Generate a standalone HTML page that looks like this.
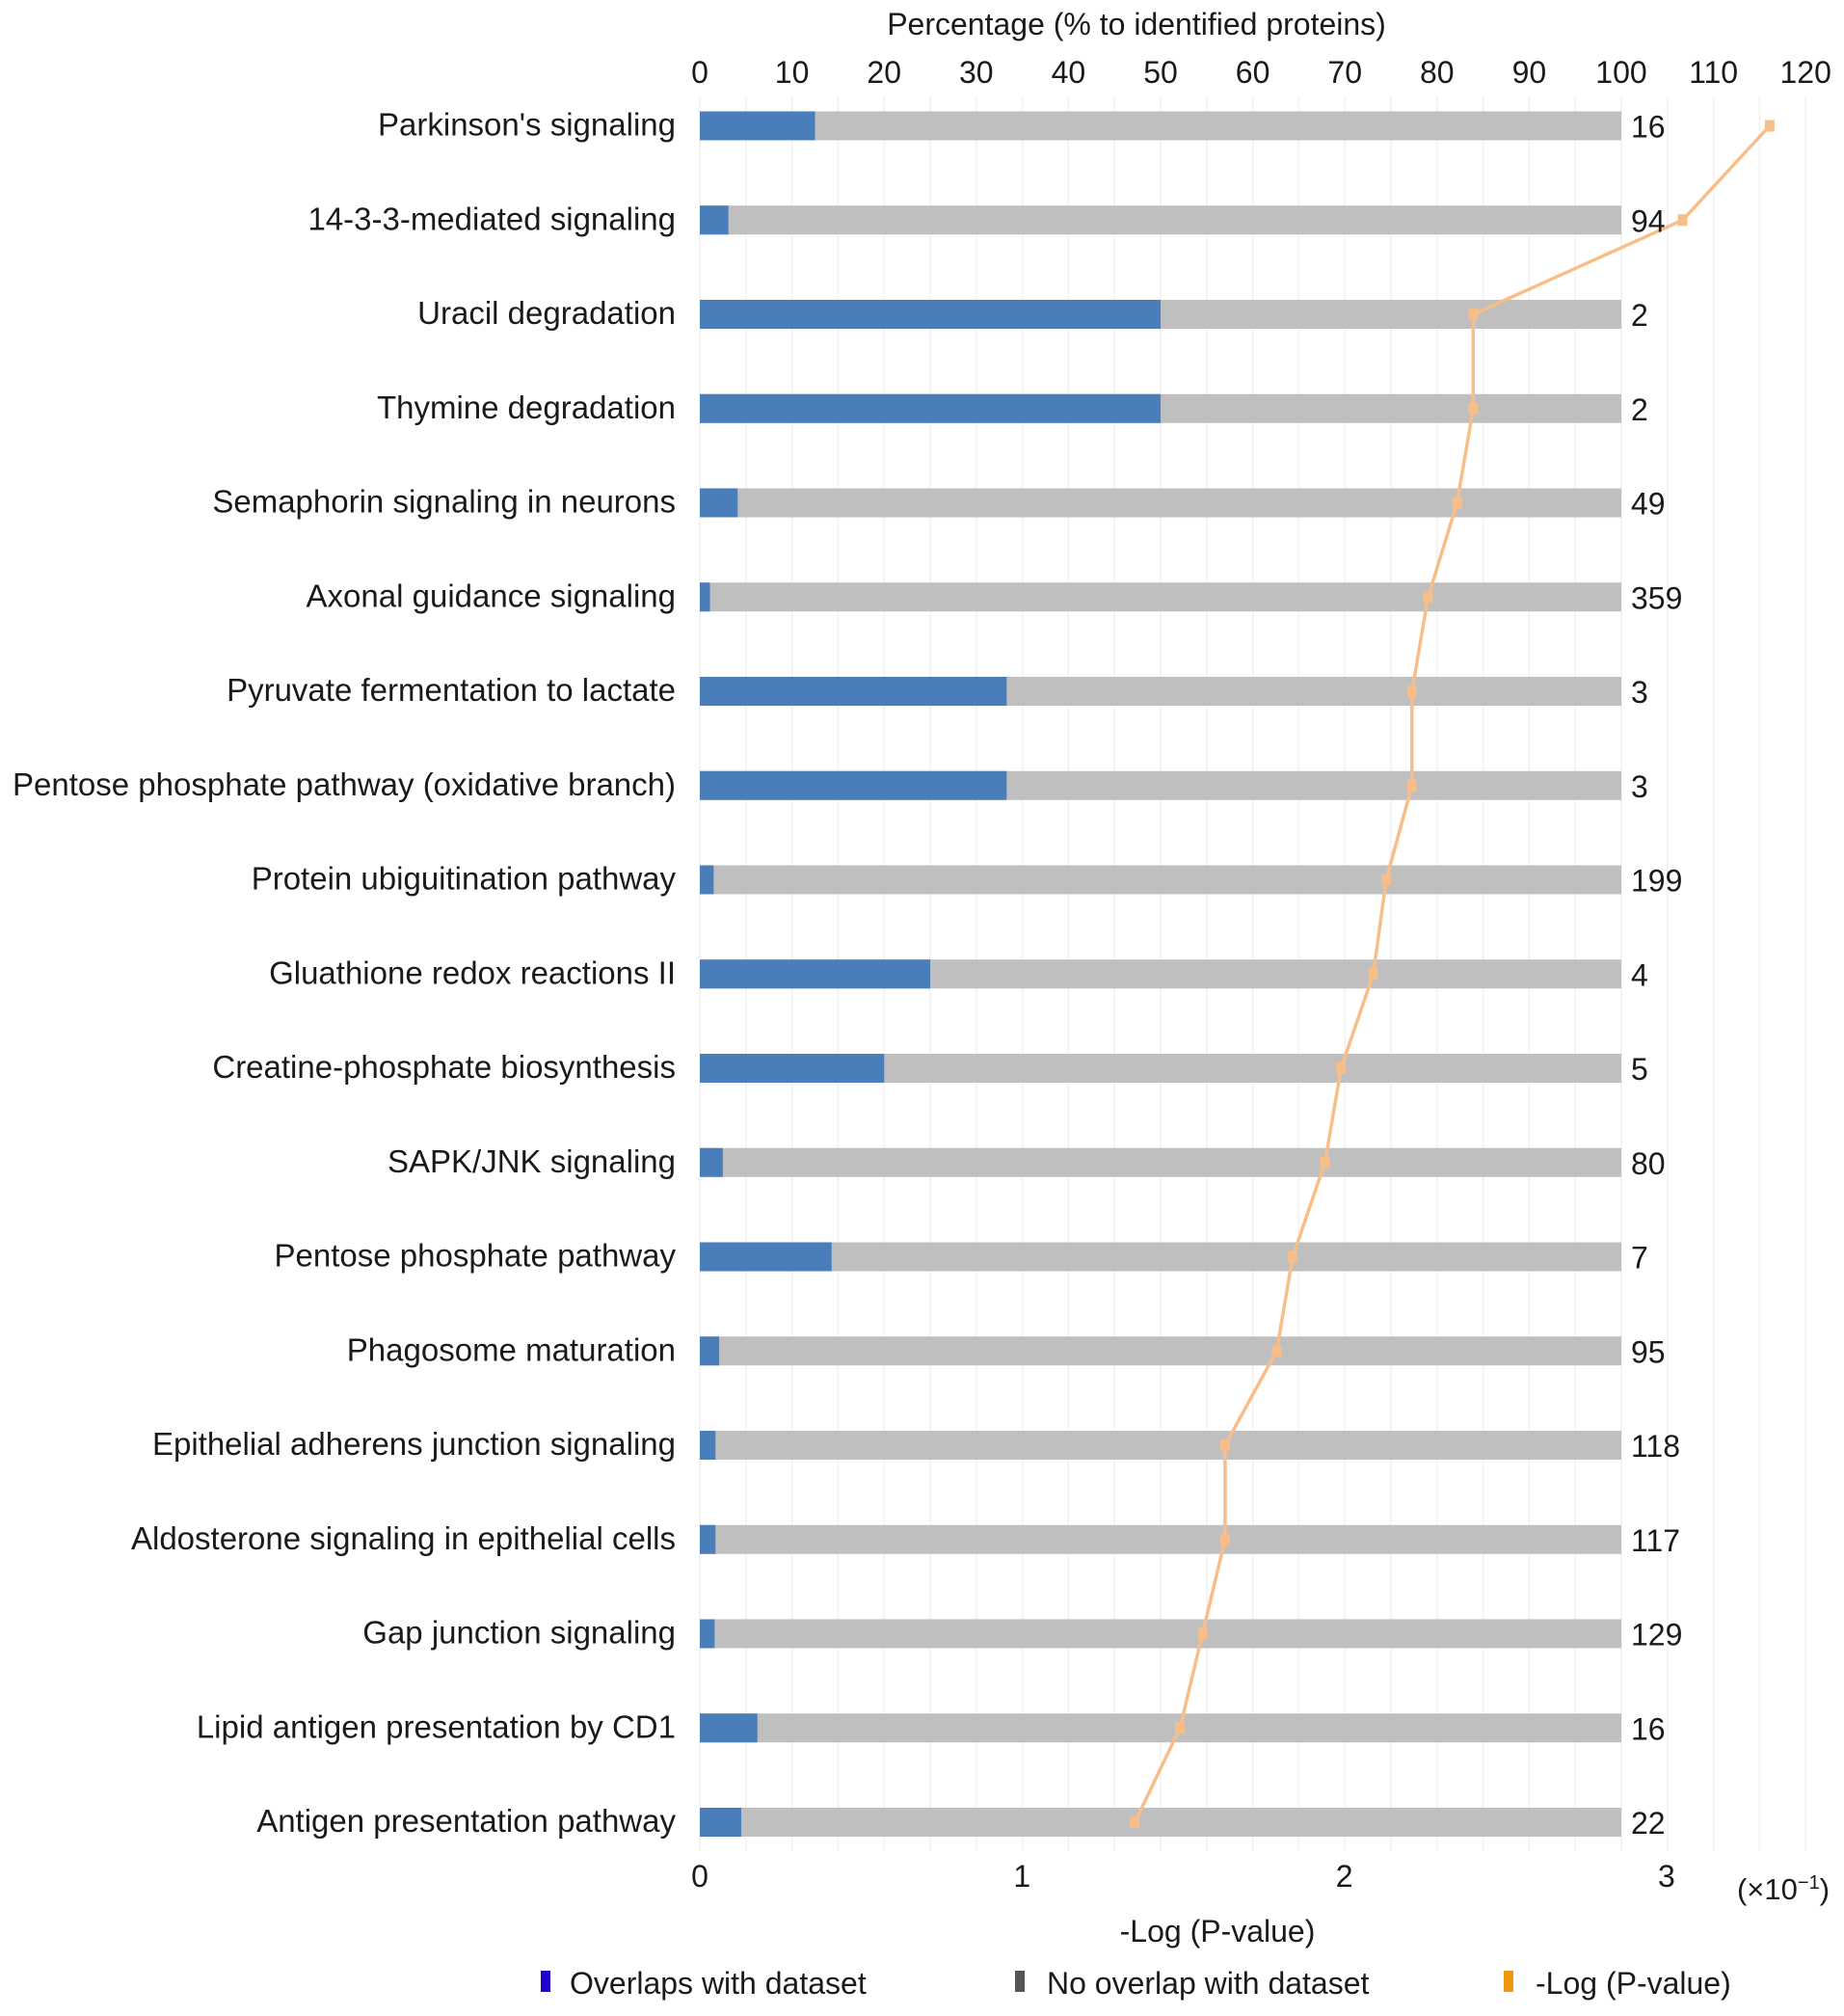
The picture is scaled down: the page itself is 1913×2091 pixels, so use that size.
<!DOCTYPE html>
<html><head><meta charset="utf-8"><style>
html,body{margin:0;padding:0;background:#fff;}
svg text{font-family:"Liberation Sans",Arial,sans-serif;fill:#1a1a1a;}
</style></head><body>
<svg id="chart" xmlns="http://www.w3.org/2000/svg" width="1913" height="2086" viewBox="0 0 1913 2086">
<g id="grid"></g>
<g id="bars"></g>
<g id="line"></g>
<g id="labels"></g>
<text x="1179" y="36" text-anchor="middle" font-size="32">Percentage (% to identified proteins)</text>
<text x="1263" y="2014" text-anchor="middle" font-size="32">-Log (P-value)</text>
<text x="1850" y="1970" text-anchor="middle" font-size="31">(×10<tspan dy="-11" font-size="20">−1</tspan><tspan dy="11">)</tspan></text>
<g>
<rect x="561" y="2044" width="10" height="22" fill="#2200cc"/>
<text x="591" y="2068" font-size="32">Overlaps with dataset</text>
<rect x="1053" y="2044" width="10" height="22" fill="#555"/>
<text x="1086" y="2068" font-size="32">No overlap with dataset</text>
<rect x="1560" y="2044" width="10" height="22" fill="#f0960f"/>
<text x="1593" y="2068" font-size="32">-Log (P-value)</text>
</g>
</svg>
<script>
const categories = ["Parkinson's signaling","14-3-3-mediated signaling","Uracil degradation","Thymine degradation","Semaphorin signaling in neurons","Axonal guidance signaling","Pyruvate fermentation to lactate","Pentose phosphate pathway (oxidative branch)","Protein ubiguitination pathway","Gluathione redox reactions II","Creatine-phosphate biosynthesis","SAPK/JNK signaling","Pentose phosphate pathway","Phagosome maturation","Epithelial adherens junction signaling","Aldosterone signaling in epithelial cells","Gap junction signaling","Lipid antigen presentation by CD1","Antigen presentation pathway"];
const overlapPct = [12.5,3.1,50,50,4.1,1.1,33.3,33.3,1.5,25,20,2.5,14.3,2.1,1.7,1.7,1.6,6.25,4.5];
const totals = [16,94,2,2,49,359,3,3,199,4,5,80,7,95,118,117,129,16,22];
const negLogP = [3.32,3.05,2.40,2.40,2.35,2.26,2.21,2.21,2.13,2.09,1.99,1.94,1.84,1.79,1.63,1.63,1.56,1.49,1.35];
const topTicks = [0,10,20,30,40,50,60,70,80,90,100,110,120];
const bottomTicks = [0,1,2,3];

const NS="http://www.w3.org/2000/svg";
const X0=726, pctPx=9.56, pUnit=334.3;
const xPct=v=>X0+v*pctPx;
const xP=v=>X0+v*pUnit;
const yRow=i=>130.5+i*97.75;
function mk(tag,attrs,parent){const e=document.createElementNS(NS,tag);for(const k in attrs)e.setAttribute(k,attrs[k]);parent.appendChild(e);return e;}
const grid=document.getElementById('grid'),bars=document.getElementById('bars'),line=document.getElementById('line'),labels=document.getElementById('labels');
for(let v=0;v<=120;v+=5){
  const g=mk('line',{x1:xPct(v),x2:xPct(v),y1:100,y2:1920,stroke:'#f1f1f1','stroke-width':1.5},grid);
  
  
}
topTicks.forEach(t=>{
  const e=mk('text',{x:xPct(t),y:86,'text-anchor':'middle','font-size':32},labels);
  e.textContent=t;
  
  
});
bottomTicks.forEach(t=>{
  const e=mk('text',{x:xP(t),y:1957,'text-anchor':'middle','font-size':32},labels);
  e.textContent=t;
  
  
});
categories.forEach((c,i)=>{
  const y=yRow(i);
  const g=mk('rect',{x:xPct(0),y:y-15,width:xPct(100)-xPct(0),height:30,fill:'#bfbfbf'},bars);
  
  
  const b=mk('rect',{x:xPct(0),y:y-15,width:xPct(overlapPct[i])-xPct(0),height:30,fill:'#4a7ebb'},bars);
  
  
  const t=mk('text',{x:701,y:y+10,'text-anchor':'end','font-size':33},labels);
  t.textContent=c;
  
  
  const n=mk('text',{x:1692,y:y+12,'font-size':32},labels);
  n.textContent=totals[i];
  
  
});
const pts=negLogP.map((v,i)=>xP(v)+','+yRow(i)).join(' ');
const pl=mk('polyline',{points:pts,fill:'none',stroke:'#f8be8a','stroke-width':3.5},line);


negLogP.forEach((v,i)=>{
  const m=mk('rect',{x:xP(v)-5,y:yRow(i)-6,width:10,height:12,fill:'#f8be8a'},line);
  
  
});
</script>
</body></html>
